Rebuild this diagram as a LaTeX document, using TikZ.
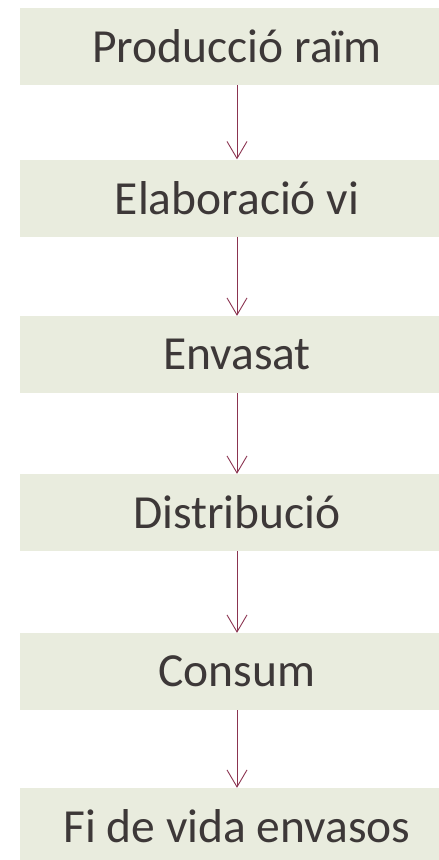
\documentclass[tikz,border=0pt]{standalone}
\usepackage{xcolor}
\usepackage{fontspec}
\setmainfont{Carlito}
\usepackage{tikz}
\usetikzlibrary{arrows.meta}
\usetikzlibrary{positioning}

\definecolor{boxfill}{HTML}{E9ECDE}
\definecolor{boxtext}{HTML}{3D3838}
\definecolor{arrowred}{HTML}{8B3350}

\tikzset{
  stage/.style={rectangle, fill=boxfill, text=boxtext, minimum width=434pt,
    minimum height=77pt, inner sep=0pt, font=\fontsize{47.5}{57}\selectfont},
  flow/.style={-{Straight Barb[length=17pt, width=20pt]}, draw=arrowred, line width=0.9pt}
}

\begin{document}
\begin{tikzpicture}[x=1pt, y=-1pt]
\useasboundingbox (0, 0) rectangle (439, 860);
\node [stage] (P) at (237, 46.5) {Producció raïm};
\node [stage] (E) at (237, 198) {Elaboració vi};
\node [stage] (V) at (237, 354.5) {Envasat};
\node [stage] (D) at (237, 512.5) {Distribució};
\node [stage] (C) at (237, 671.5) {Consum};
\node [stage] (F) at (237, 826.5) {Fi de vida envasos};
\draw [flow] (P) to (E);
\draw [flow] (E) to (V);
\draw [flow] (V) to (D);
\draw [flow] (D) to (C);
\draw [flow] (C) to (F);
\end{tikzpicture}
\end{document}
